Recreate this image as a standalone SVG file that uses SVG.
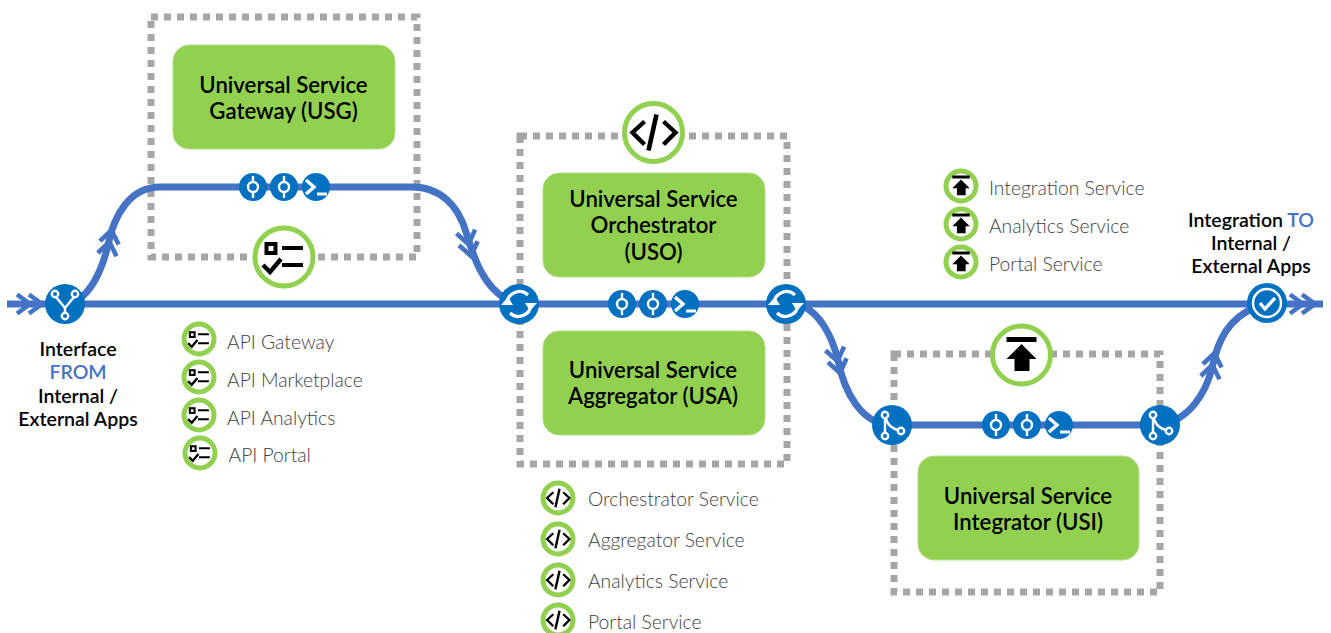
<svg xmlns="http://www.w3.org/2000/svg" xmlns:xlink="http://www.w3.org/1999/xlink" width="1331" height="633" viewBox="0 0 1331 633">
<style>
text{font-family:Lato,"Liberation Sans",sans-serif}
.box{fill:#92D050;stroke:#B5DE85;stroke-width:1}
.t{font-size:22.2px;font-weight:600;fill:#000;text-anchor:middle}
.c{font-size:19.5px;font-weight:600;fill:#000;text-anchor:middle}
.blue{fill:#4472C4}
.l{font-size:19.3px;font-weight:300;fill:#404040}
.dot{fill:none;stroke:#A6A6A6;stroke-width:7;stroke-dasharray:7 6}
.line{fill:none;stroke:#4472C4;stroke-width:7}
.chev{fill:none;stroke:#4472C4;stroke-width:4.6}
.ring{fill:#fff;stroke:#92D050;stroke-width:5}
.w{fill:none;stroke:#fff;stroke-width:2.4}
.node{fill:#0070C0}
.gl{fill:none;stroke:#000;stroke-width:4}
</style>
<defs>
<g id="chevs"><path class="chev" d="M-13,-9.500 L0,0 L-13,9.500"/><path class="chev" d="M-25,-9.500 L-12,0 L-25,9.500"/></g>
<g id="commit"><circle class="node" r="14"/><path class="w" d="M0,-11V-5M0,5V11"/><circle class="w" r="5"/></g>
<g id="term"><circle class="node" r="14"/><path d="M-10,-7 L-2,0 L-10,7" fill="none" stroke="#fff" stroke-width="3.4"/><path d="M1,7H11" stroke="#fff" stroke-width="3"/></g>
<g id="trio"><use xlink:href="#commit" x="-31"/><use xlink:href="#commit"/><use xlink:href="#term" x="32"/></g>
<g id="sync"><circle class="node" r="20"/><path d="M-12,-1 A12.500,12.500 0 0 1 9,-9 M12,1 A12.500,12.500 0 0 1 -9,9" fill="none" stroke="#fff" stroke-width="3.2"/><path d="M-18,1 L-6,1 L-11,-7Z M18,-1 L6,-1 L11,7Z" fill="#fff"/></g>
<g id="merge"><circle class="node" r="20"/><g class="w"><circle cx="-7" cy="-10" r="3.2"/><circle cx="-7" cy="11" r="3.2"/><circle cx="9" cy="6" r="3.2"/><path d="M-7,-7V8M-6,-6 Q-3,3 6,5"/></g></g>
<g id="fork"><circle class="node" r="20"/><g class="w"><circle cx="-10" cy="-10" r="3.2"/><circle cx="10" cy="-10" r="3.2"/><circle cx="0" cy="12" r="3.2"/><path d="M-9,-7 L0,4V9M9,-7 L0,4"/></g></g>
<g id="okc"><circle class="node" r="20"/><circle class="w" r="14" stroke-width="3"/><path d="M-7,0 L-2,6 L8,-5" fill="none" stroke="#fff" stroke-width="3.4"/></g>
<g id="gCheck"><rect class="gl" x="-17.500" y="-13" width="9" height="9"/><path d="M-2,-9H19M-2,8H19" stroke="#000" stroke-width="3.8"/><path d="M-21,8 L-14,15 L-3,2" fill="none" stroke="#000" stroke-width="4.4"/></g>
<g id="gCode"><path d="M-9,-11 L-21,0 L-9,12M10,-11 L22,0 L10,12" fill="none" stroke="#000" stroke-width="4.4"/><path d="M3,-18 L-5,18" stroke="#000" stroke-width="4.6"/></g>
<g id="gUp"><path d="M-15,-18H15V-13H-15Z M0,-11 L15,4H8V16H-7V4H-15Z" fill="#000"/></g>
<g id="iCheck"><circle class="ring" r="29"/><use xlink:href="#gCheck"/></g>
<g id="iCode"><circle class="ring" r="29"/><use xlink:href="#gCode"/></g>
<g id="iUp"><circle class="ring" r="29"/><use xlink:href="#gUp"/></g>
<g id="sCheck"><circle class="ring" r="15" stroke-width="4"/><use xlink:href="#gCheck" transform="scale(.52)"/></g>
<g id="sCode"><circle class="ring" r="15" stroke-width="4"/><use xlink:href="#gCode" transform="scale(.52)"/></g>
<g id="sUp"><circle class="ring" r="15" stroke-width="4"/><use xlink:href="#gUp" transform="scale(.58)"/></g>
</defs>

<g id="containers">
<rect class="dot" x="151" y="17" width="266" height="240"/>
<rect class="dot" x="520" y="136" width="267" height="328"/>
<rect class="dot" x="894" y="354" width="266" height="238"/>
</g>

<g id="connectors">
<path class="line" d="M7,304H1323"/>
<path class="line" d="M78,300 C92,290 102,270 108,245 C114,215 130,187 160,187 H412 C440,187 458,205 466,232 C472,252 482,288 510,301"/>
<path class="line" d="M803,306 C820,314 832,336 838,360 C844,392 862,425 892,425 H1160 C1190,420 1206,392 1212,368 C1218,340 1228,318 1258,306"/>
<use xlink:href="#chevs" transform="translate(42,304)"/>
<use xlink:href="#chevs" transform="translate(1315,304)"/>
<use xlink:href="#chevs" transform="translate(111.500,230) rotate(-80)"/>
<use xlink:href="#chevs" transform="translate(471,256) rotate(78)"/>
<use xlink:href="#chevs" transform="translate(840,373) rotate(78)"/>
<use xlink:href="#chevs" transform="translate(1214.500,353) rotate(-80)"/>
</g>

<g id="usg"><rect class="box" x="173" y="45" width="222" height="104" rx="16"/><text class="t" x="283.500" y="93">Universal Service</text><text class="t" x="283.500" y="119">Gateway (USG)</text></g>
<g id="uso"><rect class="box" x="543" y="173" width="222" height="104" rx="16"/><text class="t" x="653.500" y="207">Universal Service</text><text class="t" x="653.500" y="233">Orchestrator</text><text class="t" x="653.500" y="260">(USO)</text></g>
<g id="usa"><rect class="box" x="543" y="331" width="222" height="104" rx="16"/><text class="t" x="653" y="378">Universal Service</text><text class="t" x="653" y="404">Aggregator (USA)</text></g>
<g id="usi"><rect class="box" x="918" y="456" width="221" height="104" rx="16"/><text class="t" x="1028" y="504">Universal Service</text><text class="t" x="1028" y="530">Integrator (USI)</text></g>

<g id="trio-top"><use xlink:href="#trio" x="284" y="187"/></g>
<g id="trio-mid"><use xlink:href="#trio" x="653" y="304"/></g>
<g id="trio-low"><use xlink:href="#trio" x="1027" y="425"/></g>

<g id="node-fork"><use xlink:href="#fork" x="65" y="304"/></g>
<g id="node-sync1"><use xlink:href="#sync" x="519" y="304"/></g>
<g id="node-sync2"><use xlink:href="#sync" x="786" y="304"/></g>
<g id="node-merge1"><use xlink:href="#merge" x="892" y="425"/></g>
<g id="node-merge2"><use xlink:href="#merge" x="1160" y="425"/></g>
<g id="node-ok"><use xlink:href="#okc" x="1267" y="303"/></g>

<g id="icon-check"><use xlink:href="#iCheck" x="284" y="257"/></g>
<g id="icon-code"><use xlink:href="#iCode" x="653.500" y="132.500"/></g>
<g id="icon-up"><use xlink:href="#iUp" x="1021.500" y="355"/></g>

<g id="label-from"><text class="c" x="78" y="356">Interface</text><text class="c" x="78" y="379" style="fill:#4472C4">FROM</text><text class="c" x="78" y="403">Internal /</text><text class="c" x="78" y="426">External Apps</text></g>
<g id="label-to"><text class="c" x="1251" y="227">Integration <tspan class="blue">TO</tspan></text><text class="c" x="1251" y="250">Internal /</text><text class="c" x="1251" y="273">External Apps</text></g>

<g id="legend-api">
<use xlink:href="#sCheck" x="199" y="339"/><text class="l" x="227" y="349">API Gateway</text>
<use xlink:href="#sCheck" x="199" y="377"/><text class="l" x="227" y="387">API Marketplace</text>
<use xlink:href="#sCheck" x="199" y="415"/><text class="l" x="227" y="425">API Analytics</text>
<use xlink:href="#sCheck" x="200" y="453"/><text class="l" x="228.500" y="462">API Portal</text>
</g>
<g id="legend-code">
<use xlink:href="#sCode" x="558" y="498"/><text class="l" x="588" y="506">Orchestrator Service</text>
<use xlink:href="#sCode" x="558" y="539"/><text class="l" x="588" y="547">Aggregator Service</text>
<use xlink:href="#sCode" x="558" y="580"/><text class="l" x="588" y="588">Analytics Service</text>
<use xlink:href="#sCode" x="558" y="620"/><text class="l" x="588" y="629">Portal Service</text>
</g>
<g id="legend-int">
<use xlink:href="#sUp" x="961" y="186"/><text class="l" x="989" y="195">Integration Service</text>
<use xlink:href="#sUp" x="961" y="224"/><text class="l" x="989" y="233">Analytics Service</text>
<use xlink:href="#sUp" x="961" y="262"/><text class="l" x="989" y="271">Portal Service</text>
</g>
</svg>
